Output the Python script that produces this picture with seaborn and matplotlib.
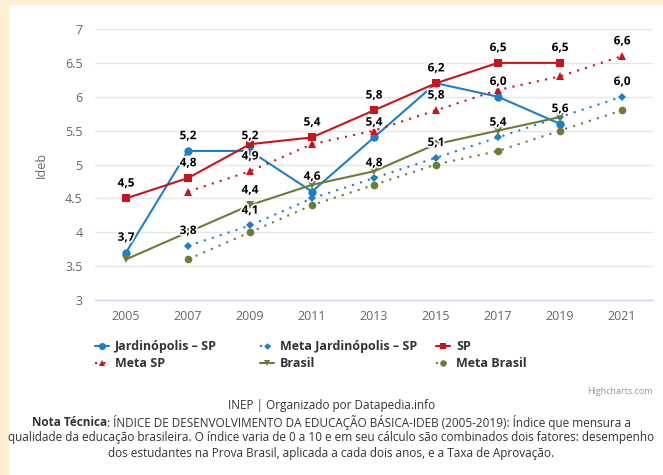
import numpy as np
import pandas as pd
import seaborn as sns
import matplotlib.pyplot as plt
import matplotlib.patheffects as pe
from matplotlib.patches import Rectangle

# IDEB data (anos iniciais)
years = [2005, 2007, 2009, 2011, 2013, 2015, 2017, 2019]
meta_years = [2007, 2009, 2011, 2013, 2015, 2017, 2019, 2021]
all_years = [2005, 2007, 2009, 2011, 2013, 2015, 2017, 2019, 2021]

jardinopolis = [3.7, 5.2, 5.2, 4.6, 5.4, 6.2, 6.0, 5.6]
meta_jardinopolis = [3.8, 4.1, 4.5, 4.8, 5.1, 5.4, 5.7, 6.0]
sp = [4.5, 4.8, 5.3, 5.4, 5.8, 6.2, 6.5, 6.5]
meta_sp = [4.6, 4.9, 5.3, 5.5, 5.8, 6.1, 6.3, 6.6]
brasil = [3.6, 4.0, 4.4, 4.7, 4.9, 5.3, 5.5, 5.7]
meta_brasil = [3.6, 4.0, 4.4, 4.7, 5.0, 5.2, 5.5, 5.8]

# points whose data label is visible (others are hidden by overlap in the original)
jard_labeled = [2005, 2007, 2009, 2011, 2013, 2017, 2019]
meta_jard_labeled = [2007, 2009, 2013, 2015, 2017, 2021]
sp_labeled = [2005, 2007, 2011, 2013, 2015, 2017, 2019]
meta_sp_labeled = [2009, 2015, 2021]
brasil_labeled = [2009]
meta_brasil_labeled = []

BLUE = "#1f7fc4"
RED = "#c8141c"
GREEN = "#6a7d37"
GRAY = "#666666"

sns.set_theme(style="white")
plt.rcParams['font.family'] = ['Open Sans', 'DejaVu Sans']

fig = plt.figure(figsize=(6.63, 4.75), dpi=100)
ax = fig.add_axes([95 / 663, 1 - 300 / 475, (653 - 95) / 663, (300 - 29) / 475])

# cream frame on top / left
fig.patches.append(Rectangle((0, 1 - 4 / 475), 1, 4 / 475, transform=fig.transFigure,
                             color="#fdefd4", zorder=0))
fig.patches.append(Rectangle((0, 0), 8 / 663, 1, transform=fig.transFigure,
                             color="#fdefd4", zorder=0))

dot = (0, (1, 3))
series = [
    ("Jardinópolis – SP", years, jardinopolis, BLUE, "o", "-", 6.0, jard_labeled),
    ("Meta Jardinópolis – SP", meta_years, meta_jardinopolis, BLUE, "D", dot, 4.0, meta_jard_labeled),
    ("SP", years, sp, RED, "s", "-", 5.5, sp_labeled),
    ("Meta SP", meta_years, meta_sp, RED, "^", dot, 5.5, meta_sp_labeled),
    ("Brasil", years, brasil, GREEN, "v", "-", 5.5, brasil_labeled),
    ("Meta Brasil", meta_years, meta_brasil, GREEN, "o", dot, 5.5, meta_brasil_labeled),
]

for name, xs, ys, color, marker, ls, ms, shown in series:
    sns.lineplot(x=xs, y=ys, ax=ax, color=color, marker=marker, linestyle=ls,
                 markersize=ms, linewidth=1.5, markeredgewidth=0, label=name)

for name, xs, ys, color, marker, ls, ms, shown in series:
    for x, y in zip(xs, ys):
        if x in shown:
            ax.annotate(f"{y:.1f}".replace(".", ","), (x, y), xytext=(0, 11),
                        textcoords="offset points", ha="center", va="center",
                        fontsize=8.5, fontweight="bold", color="#000000", zorder=10,
                        path_effects=[pe.withStroke(linewidth=2.5, foreground="white")])

handles, labels = ax.get_legend_handles_labels()
ax.get_legend().remove()

ax.set_xlim(2004, 2022)
ax.set_ylim(3, 7)
ax.set_xticks(all_years)
ax.set_xticklabels([str(y) for y in all_years])
ax.set_xticks(np.arange(2004, 2023, 2), minor=True)
yt = np.arange(3, 7.01, 0.5)
ax.set_yticks(yt)
ax.set_yticklabels([f"{v:g}" for v in yt])
ax.tick_params(axis="x", which="major", length=0, pad=7, labelsize=9, labelcolor=GRAY)
ax.tick_params(axis="x", which="minor", length=8, width=1, color="#ccd6eb", direction="out")
ax.tick_params(axis="y", length=0, pad=9, labelsize=9, labelcolor=GRAY)
ax.yaxis.grid(True, color="#e6e6e6", linewidth=1)
ax.xaxis.grid(False)
for s in ["top", "right", "left"]:
    ax.spines[s].set_visible(False)
ax.spines["bottom"].set_color("#ccd6eb")
ax.spines["bottom"].set_linewidth(1)
ax.set_xlabel("")
ax.set_ylabel("Ideb", color=GRAY, fontsize=9, labelpad=12)

# legend in three columns, rows ordered like the original
col_x = [95 / 663, 260 / 663, 436 / 663]
for i, x0 in enumerate(col_x):
    hs = [handles[i], handles[i + 3]]
    ls_ = [labels[i], labels[i + 3]]
    leg = fig.legend(hs, ls_, loc="upper left", bbox_to_anchor=(x0, 1 - 340 / 475),
                     frameon=False, handlelength=1.1, handletextpad=0.5,
                     labelspacing=0.35, borderaxespad=0, borderpad=0, markerscale=0.85,
                     prop={"weight": "bold", "size": 9})
    for t in leg.get_texts():
        t.set_color("#333333")

fig.text(653 / 663, 1 - 392 / 475, "Highcharts.com", ha="right", va="center",
         fontsize=6.5, color="#999999")
fig.text(0.5, 1 - 405 / 475, "INEP | Organizado por Datapedia.info", ha="center",
         va="center", fontsize=8.5, color="#333333")

# "Nota Técnica:" in bold followed by regular text, centred as one line
bold_part = fig.text(0, 1 - 422 / 475, "Nota Técnica", fontsize=8.5, fontweight="bold",
                     color="#333333", va="center")
rest_part = fig.text(0, 1 - 422 / 475,
                     ": ÍNDICE DE DESENVOLVIMENTO DA EDUCAÇÃO BÁSICA-IDEB (2005-2019): Índice que mensura a",
                     fontsize=8.5, color="#333333", va="center")
renderer = fig.canvas.get_renderer()
wb = bold_part.get_window_extent(renderer).width
wr = rest_part.get_window_extent(renderer).width
x_start = (663 - wb - wr) / 2 / 663
bold_part.set_x(x_start)
rest_part.set_x(x_start + wb / 663)

fig.text(0.5, 1 - 438 / 475,
         "qualidade da educação brasileira. O índice varia de 0 a 10 e em seu cálculo são combinados dois fatores: desempenho",
         ha="center", va="center", fontsize=8.5, color="#333333")
fig.text(0.5, 1 - 453 / 475,
         "dos estudantes na Prova Brasil, aplicada a cada dois anos, e a Taxa de Aprovação.",
         ha="center", va="center", fontsize=8.5, color="#333333")

fig.savefig("out.png", dpi=100)
